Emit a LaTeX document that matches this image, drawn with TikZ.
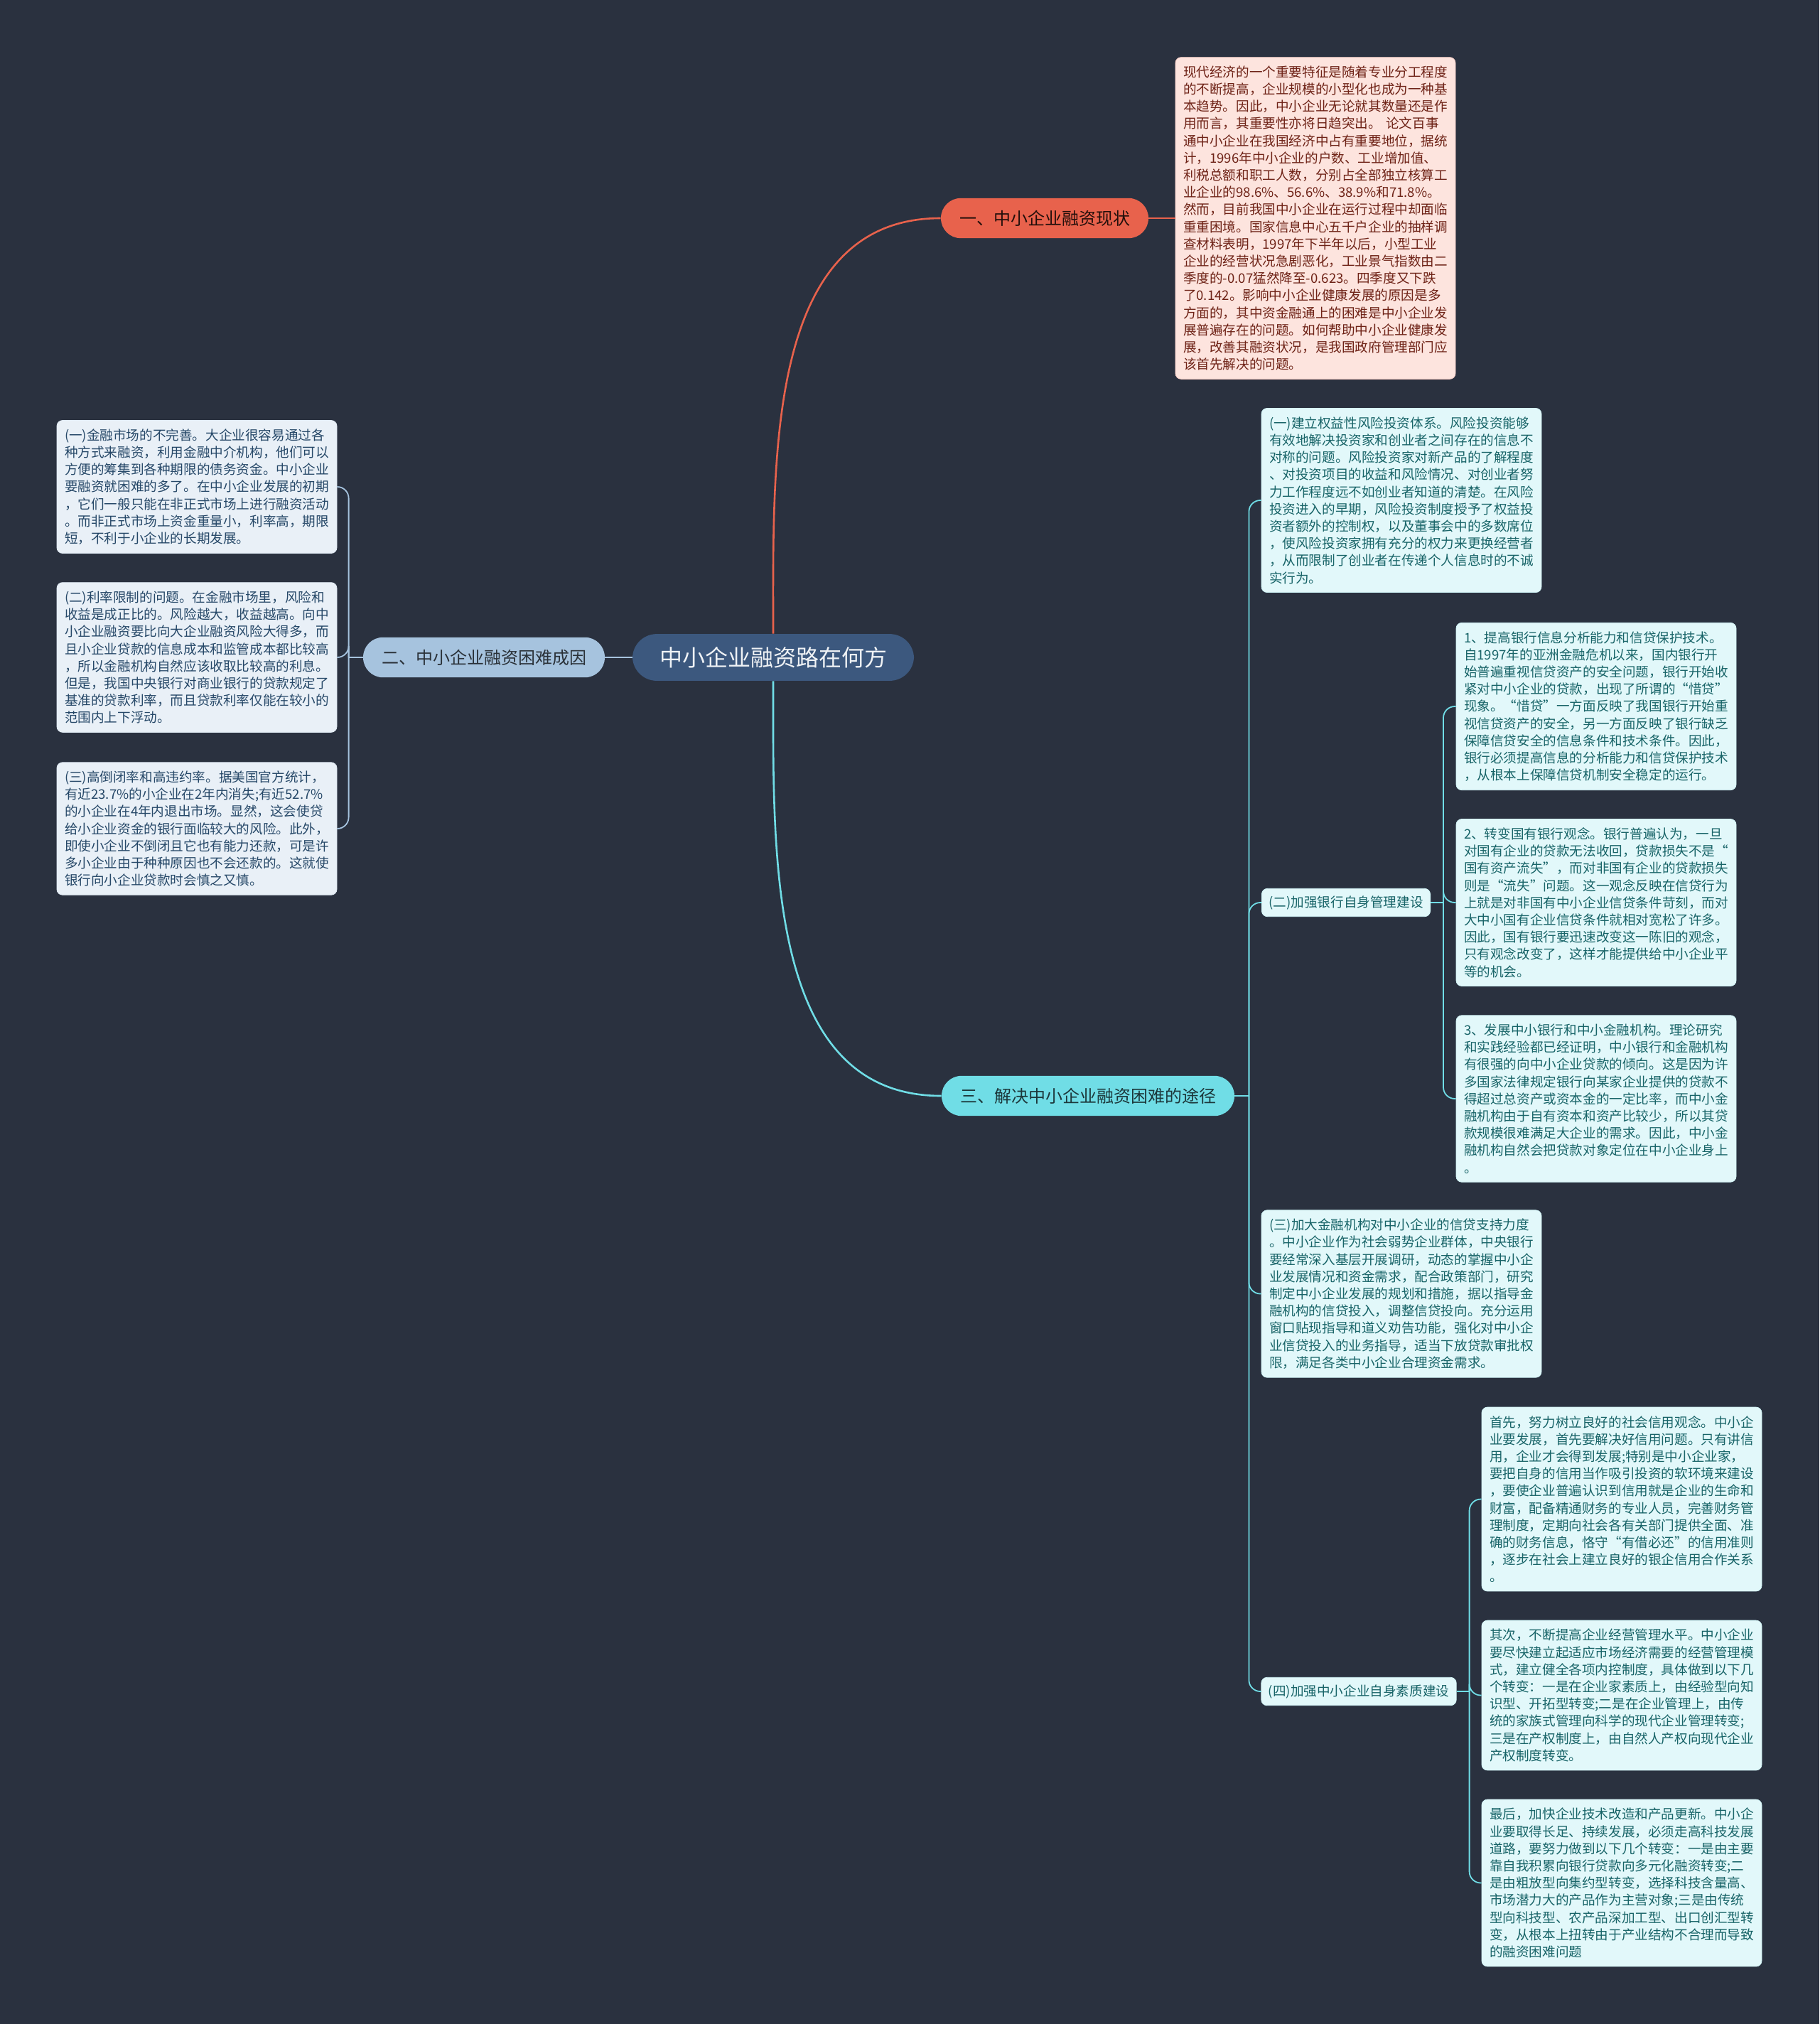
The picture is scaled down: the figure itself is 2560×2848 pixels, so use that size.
\documentclass[tikz,border=0pt]{standalone}
\usepackage{fontspec}
\usepackage{xcolor}
\usepackage{tikz}
\usetikzlibrary{positioning}
\newfontfamily\zh{Noto Sans CJK SC}

\definecolor{bgnavy}{RGB}{42,49,63}
\definecolor{rootblue}{RGB}{60,88,126}
\definecolor{redbr}{RGB}{232,98,76}
\definecolor{steelbr}{RGB}{166,195,222}
\definecolor{cyanbr}{RGB}{112,221,230}
\definecolor{pinkbox}{RGB}{253,228,222}
\definecolor{pinktext}{RGB}{110,34,22}
\definecolor{graybox}{RGB}{233,240,247}
\definecolor{graytext}{RGB}{38,72,104}
\definecolor{cyanbox}{RGB}{226,248,250}
\definecolor{cyantext}{RGB}{24,100,104}

\begin{document}
\begin{tikzpicture}[node distance=2cm, on grid, x=0.5pt, y=-0.5pt,
    rootnode/.style={fill=rootblue, text=white!92!rootblue, rounded corners=17pt,
        inner xsep=19pt, inner ysep=9pt, font=\zh\fontsize{16}{19}\selectfont},
    branch/.style={rounded corners=14pt, inner xsep=13pt, inner ysep=8.5pt,
        font=\zh\fontsize{12}{14}\selectfont},
    para/.style={rounded corners=4pt, text width=186pt, align=left,
        inner xsep=5.5pt, inner ysep=6pt, font=\zh\fontsize{9.3}{12.1}\selectfont},
    pinkpara/.style={para, fill=pinkbox, draw=pinkbox!85!redbr, text=pinktext},
    graypara/.style={para, fill=graybox, draw=graybox!85!steelbr, text=graytext},
    cyanpara/.style={para, fill=cyanbox, draw=cyanbox!85!cyanbr, text=cyantext},
    sublabel/.style={rounded corners=4pt, fill=cyanbox, draw=cyanbox!85!cyanbr, text=cyantext,
        inner xsep=5pt, inner ysep=5pt, font=\zh\fontsize{9.3}{12.1}\selectfont},
    mainline/.style={line width=1.3pt},
    subline/.style={line width=0.9pt, rounded corners=8pt}]

    \useasboundingbox (0,0) rectangle (2560,2848);
    \fill[bgnavy] (0,0) rectangle (2560,2848);

    % centre and main branches
    \node[rootnode] (root) at (1088,925) {中小企业融资路在何方};
    \node[branch, fill=redbr, text=black!85!redbr] (b1) [above right=309pt and 191pt of root] {一、中小企业融资现状};
    \node[branch, fill=steelbr, text=black!75!steelbr] (b2) [left=203.5pt of root] {二、中小企业融资困难成因};
    \node[branch, fill=cyanbr, text=black!75!cyanbr] (b3) [below right=308.5pt and 221.5pt of root] {三、解决中小企业融资困难的途径};

    % 一
    \node[pinkpara] (t1) [right=190.5pt of b1] {现代经济的一个重要特征是随着专业分工程度\\
的不断提高，企业规模的小型化也成为一种基\\
本趋势。因此，中小企业无论就其数量还是作\\
用而言，其重要性亦将日趋突出。 论文百事\\
通中小企业在我国经济中占有重要地位，据统\\
计，1996年中小企业的户数、工业增加值、\\
利税总额和职工人数，分别占全部独立核算工\\
业企业的98.6\%、56.6\%、38.9\%和71.8\%。\\
然而，目前我国中小企业在运行过程中却面临\\
重重困境。国家信息中心五千户企业的抽样调\\
查材料表明，1997年下半年以后，小型工业\\
企业的经营状况急剧恶化，工业景气指数由二\\
季度的-0.07猛然降至-0.623。四季度又下跌\\
了0.142。影响中小企业健康发展的原因是多\\
方面的，其中资金融通上的困难是中小企业发\\
展普遍存在的问题。如何帮助中小企业健康发\\
展，改善其融资状况，是我国政府管理部门应\\
该首先解决的问题。};

    % 二
    \node[graypara] (l2) [left=202pt of b2] {(二)利率限制的问题。在金融市场里，风险和\\
收益是成正比的。风险越大，收益越高。向中\\
小企业融资要比向大企业融资风险大得多，而\\
且小企业贷款的信息成本和监管成本都比较高\\
，所以金融机构自然应该收取比较高的利息。\\
但是，我国中央银行对商业银行的贷款规定了\\
基准的贷款利率，而且贷款利率仅能在较小的\\
范围内上下浮动。};
    \node[graypara] (l1) [above=120pt of l2] {(一)金融市场的不完善。大企业很容易通过各\\
种方式来融资，利用金融中介机构，他们可以\\
方便的筹集到各种期限的债务资金。中小企业\\
要融资就困难的多了。在中小企业发展的初期\\
，它们一般只能在非正式市场上进行融资活动\\
。而非正式市场上资金重量小，利率高，期限\\
短，不利于小企业的长期发展。};
    \node[graypara] (l3) [below=120.5pt of l2] {(三)高倒闭率和高违约率。据美国官方统计，\\
有近23.7\%的小企业在2年内消失;有近52.7\%\\
的小企业在4年内退出市场。显然，这会使贷\\
给小企业资金的银行面临较大的风险。此外，\\
即使小企业不倒闭且它也有能力还款，可是许\\
多小企业由于种种原因也不会还款的。这就使\\
银行向小企业贷款时会慎之又慎。};

    % 三
    \node[cyanpara] (c1) [above right=419pt and 220.5pt of b3] {(一)建立权益性风险投资体系。风险投资能够\\
有效地解决投资家和创业者之间存在的信息不\\
对称的问题。风险投资家对新产品的了解程度\\
、对投资项目的收益和风险情况、对创业者努\\
力工作程度远不如创业者知道的清楚。在风险\\
投资进入的早期，风险投资制度授予了权益投\\
资者额外的控制权，以及董事会中的多数席位\\
，使风险投资家拥有充分的权力来更换经营者\\
，从而限制了创业者在传递个人信息时的不诚\\
实行为。};
    \node[sublabel] (c2) [above right=136pt and 181.5pt of b3] {(二)加强银行自身管理建设};
    \node[cyanpara] (c3) [below right=139.25pt and 220.5pt of b3] {(三)加大金融机构对中小企业的信贷支持力度\\
。中小企业作为社会弱势企业群体，中央银行\\
要经常深入基层开展调研，动态的掌握中小企\\
业发展情况和资金需求，配合政策部门，研究\\
制定中小企业发展的规划和措施，据以指导金\\
融机构的信贷投入，调整信贷投向。充分运用\\
窗口贴现指导和道义劝告功能，强化对中小企\\
业信贷投入的业务指导，适当下放贷款审批权\\
限，满足各类中小企业合理资金需求。};
    \node[sublabel] (c4) [below right=419pt and 190.5pt of b3] {(四)加强中小企业自身素质建设};

    \node[cyanpara] (g2) [right=176pt of c2] {2、转变国有银行观念。银行普遍认为，一旦\\
对国有企业的贷款无法收回，贷款损失不是“\\
国有资产流失”，而对非国有企业的贷款损失\\
则是“流失”问题。这一观念反映在信贷行为\\
上就是对非国有中小企业信贷条件苛刻，而对\\
大中小国有企业信贷条件就相对宽松了许多。\\
因此，国有银行要迅速改变这一陈旧的观念，\\
只有观念改变了，这样才能提供给中小企业平\\
等的机会。};
    \node[cyanpara] (g1) [above=138pt of g2] {1、提高银行信息分析能力和信贷保护技术。\\
自1997年的亚洲金融危机以来，国内银行开\\
始普遍重视信贷资产的安全问题，银行开始收\\
紧对中小企业的贷款，出现了所谓的“惜贷”\\
现象。“惜贷”一方面反映了我国银行开始重\\
视信贷资产的安全，另一方面反映了银行缺乏\\
保障信贷安全的信息条件和技术条件。因此，\\
银行必须提高信息的分析能力和信贷保护技术\\
，从根本上保障信贷机制安全稳定的运行。};
    \node[cyanpara] (g3) [below=138pt of g2] {3、发展中小银行和中小金融机构。理论研究\\
和实践经验都已经证明，中小银行和金融机构\\
有很强的向中小企业贷款的倾向。这是因为许\\
多国家法律规定银行向某家企业提供的贷款不\\
得超过总资产或资本金的一定比率，而中小金\\
融机构由于自有资本和资产比较少，所以其贷\\
款规模很难满足大企业的需求。因此，中小金\\
融机构自然会把贷款对象定位在中小企业身上\\
。};

    \node[cyanpara] (h2) [below right=2.75pt and 185pt of c4] {其次，不断提高企业经营管理水平。中小企业\\
要尽快建立起适应市场经济需要的经营管理模\\
式，建立健全各项内控制度，具体做到以下几\\
个转变：一是在企业家素质上，由经验型向知\\
识型、开拓型转变;二是在企业管理上，由传\\
统的家族式管理向科学的现代企业管理转变;\\
三是在产权制度上，由自然人产权向现代企业\\
产权制度转变。};
    \node[cyanpara] (h1) [above=138pt of h2] {首先，努力树立良好的社会信用观念。中小企\\
业要发展，首先要解决好信用问题。只有讲信\\
用，企业才会得到发展;特别是中小企业家，\\
要把自身的信用当作吸引投资的软环境来建设\\
，要使企业普遍认识到信用就是企业的生命和\\
财富，配备精通财务的专业人员，完善财务管\\
理制度，定期向社会各有关部门提供全面、准\\
确的财务信息，恪守“有借必还”的信用准则\\
，逐步在社会上建立良好的银企信用合作关系\\
。};
    \node[cyanpara] (h3) [below=132pt of h2] {最后，加快企业技术改造和产品更新。中小企\\
业要取得长足、持续发展，必须走高科技发展\\
道路，要努力做到以下几个转变：一是由主要\\
靠自我积累向银行贷款向多元化融资转变;二\\
是由粗放型向集约型转变，选择科技含量高、\\
市场潜力大的产品作为主营对象;三是由传统\\
型向科技型、农产品深加工型、出口创汇型转\\
变，从根本上扭转由于产业结构不合理而导致\\
的融资困难问题};

    % connectors
    \coordinate (j2) at ([xshift=-10pt]b2.west);
    \coordinate (j3) at ([xshift=10pt]b3.east);
    \coordinate (jc2) at ([xshift=9pt]c2.east);
    \coordinate (jc4) at ([xshift=9pt]c4.east);

    \draw[mainline, redbr] (root.north) to[out=90, in=180] (b1.west);
    \draw[mainline, steelbr] (root.west) -- (b2.east);
    \draw[mainline, cyanbr] (root.south) to[out=-90, in=180] (b3.west);

    \draw[subline, redbr] (b1.east) -- (t1.west);
    \draw[subline, steelbr] (b2.west) -- (j2);
    \foreach \n in {l1,l2,l3}
        \draw[subline, steelbr] (j2) |- (\n.east);
    \draw[subline, cyanbr] (b3.east) -- (j3);
    \foreach \n in {c1,c2,c3,c4}
        \draw[subline, cyanbr] (j3) |- (\n.west);
    \draw[subline, cyanbr] (c2.east) -- (jc2);
    \foreach \n in {g1,g2,g3}
        \draw[subline, cyanbr] (jc2) |- (\n.west);
    \draw[subline, cyanbr] (c4.east) -- (jc4);
    \foreach \n in {h1,h2,h3}
        \draw[subline, cyanbr] (jc4) |- (\n.west);

\end{tikzpicture}
\end{document}
